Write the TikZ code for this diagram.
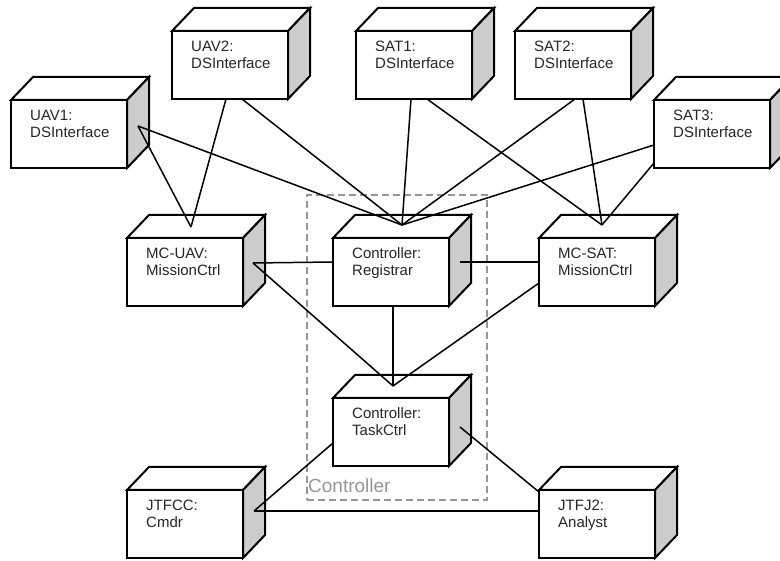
\documentclass[tikz,border=0pt]{standalone}
\usepackage{fontspec}
\setmainfont{Liberation Sans}
\usetikzlibrary{calc}
\definecolor{sidegray}{RGB}{204,204,204}
\definecolor{framegray}{RGB}{150,150,150}
\tikzset{
  box/.style={draw, line width=2pt, fill=white, minimum width=116pt, minimum height=68pt, inner sep=0pt, outer sep=0pt},
  lbl/.style={anchor=north west, inner sep=0pt, align=left, xshift=19pt, yshift=-9.5pt, text=black!85, font=\fontsize{15}{17}\selectfont},
  conn/.style={line width=1.5pt},
  frame/.style={draw=framegray, dashed, dash pattern=on 7pt off 4pt, line width=1.5pt, minimum width=180pt, minimum height=305pt, inner sep=0pt, outer sep=0pt},
}
\newcommand{\cubeparts}[1]{%
  \draw[line width=2pt, fill=white, line join=miter] (#1.north west) -- ++(22,-23) -- ($(#1.north east)+(22,-23)$) -- (#1.north east) -- cycle;
  \draw[line width=2pt, fill=sidegray, line join=miter] (#1.north east) -- ++(22,-23) -- ($(#1.south east)+(22,-23)$) -- (#1.south east) -- cycle;
}
\begin{document}
\begin{tikzpicture}[x=1pt, y=-1pt]
\useasboundingbox (0,0) rectangle (780,561);
\clip (0,0) rectangle (780,561);
% controller frame
\node[frame] (ctrl) at (397,347.5) {};
\node[anchor=base west, inner sep=0pt, text=framegray, font=\fontsize{19}{21}\selectfont] (ctrllbl) at ($(ctrl.south west)+(1,-7)$) {Controller};
% boxes
\node[box, label={[lbl]north west:UAV1:\\DSInterface}] (uav1) at (69,134) {};
\node[box, label={[lbl]north west:UAV2:\\DSInterface}] (uav2) at (230,65) {};
\node[box, label={[lbl]north west:SAT1:\\DSInterface}] (sat1) at (414,65) {};
\node[box, label={[lbl]north west:SAT2:\\DSInterface}] (sat2) at (573,65) {};
\node[box, label={[lbl]north west:SAT3:\\DSInterface}] (sat3) at (712,134) {};
\node[box, label={[lbl]north west:MC-UAV:\\MissionCtrl}] (mcuav) at (185,272) {};
\node[box, label={[lbl]north west:Controller:\\Registrar}] (reg) at (391,272) {};
\node[box, label={[lbl]north west:MC-SAT:\\MissionCtrl}] (mcsat) at (597,272) {};
\node[box, label={[lbl]north west:Controller:\\TaskCtrl}] (task) at (391,432) {};
\node[box, label={[lbl]north west:JTFCC:\\Cmdr}] (jtfcc) at (185,524) {};
\node[box, label={[lbl]north west:JTFJ2:\\Analyst}] (jtfj2) at (597,524) {};
\foreach \n in {uav1,uav2,sat1,sat2,sat3,mcuav,reg,mcsat,task,jtfcc,jtfj2} {\cubeparts{\n}}
% connection points
\coordinate (uav1-r) at ($(uav1.east)+(11,-8)$);
\coordinate (uav2-b1) at ($(uav2.south)+(-4,0)$);
\coordinate (uav2-b2) at ($(uav2.south)+(12,0)$);
\coordinate (sat1-b1) at ($(sat1.south)+(-3,0)$);
\coordinate (sat1-b2) at ($(sat1.south)+(13,0)$);
\coordinate (sat2-b1) at ($(sat2.south)+(2,0)$);
\coordinate (sat2-b2) at ($(sat2.south)+(10,0)$);
\coordinate (sat3-l1) at ($(sat3.west)+(0,11)$);
\coordinate (sat3-l2) at ($(sat3.west)+(0,29)$);
\coordinate (mcuav-t) at ($(mcuav.north)+(6,-11)$);
\coordinate (mcuav-r) at ($(mcuav.east)+(10,-9)$);
\coordinate (reg-t) at ($(reg.north)+(11,-13)$);
\coordinate (reg-l) at ($(reg.west)+(0,-10)$);
\coordinate (reg-r) at ($(reg.east)+(11,-10)$);
\coordinate (reg-b) at ($(reg.south)+(2,0)$);
\coordinate (mcsat-t) at ($(mcsat.north)+(5,-13)$);
\coordinate (mcsat-l) at ($(mcsat.west)+(0,-10)$);
\coordinate (mcsat-l2) at ($(mcsat.west)+(0,11)$);
\coordinate (task-t) at ($(task.north)+(2,-12)$);
\coordinate (task-l) at ($(task.west)+(0,11)$);
\coordinate (task-r) at ($(task.east)+(11,-5)$);
\coordinate (jtfcc-r) at ($(jtfcc.east)+(11,-13)$);
\coordinate (jtfj2-l) at ($(jtfj2.west)+(0,-13)$);
\coordinate (jtfj2-nw) at ($(jtfj2.north west)+(0,2)$);
% connectors
\draw[conn] (uav1-r) -- (reg-t);
\draw[conn] (uav1-r) -- (mcuav-t);
\draw[conn] (uav2-b1) -- (mcuav-t);
\draw[conn] (uav2-b2) -- (reg-t);
\draw[conn] (sat1-b1) -- (reg-t);
\draw[conn] (sat1-b2) -- (mcsat-t);
\draw[conn] (sat2-b1) -- (reg-t);
\draw[conn] (sat2-b2) -- (mcsat-t);
\draw[conn] (sat3-l1) -- (reg-t);
\draw[conn] (sat3-l2) -- (mcsat-t);
\draw[conn] (mcuav-r) -- (reg-l);
\draw[conn] (reg-r) -- (mcsat-l);
\draw[conn] (mcuav-r) -- (task-t);
\draw[conn] (reg-b) -- (task-t);
\draw[conn] (mcsat-l2) -- (task-t);
\draw[conn] (task-l) -- (jtfcc-r);
\draw[conn] (jtfcc-r) -- (jtfj2-l);
\draw[conn] (task-r) -- (jtfj2-nw);
\end{tikzpicture}
\end{document}
